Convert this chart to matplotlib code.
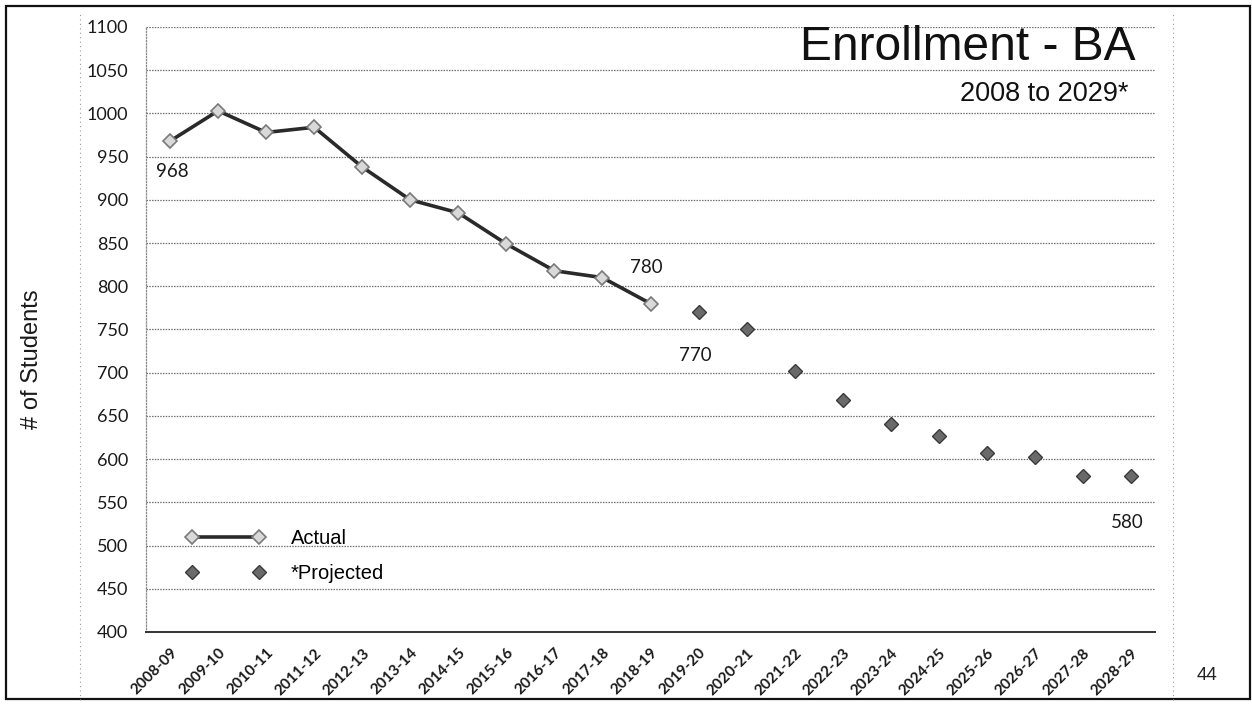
import matplotlib
matplotlib.use("Agg")
import matplotlib.pyplot as plt
from matplotlib.lines import Line2D
from matplotlib.patches import Rectangle

# School years on the x axis
years = ["2008-09", "2009-10", "2010-11", "2011-12", "2012-13", "2013-14",
         "2014-15", "2015-16", "2016-17", "2017-18", "2018-19", "2019-20",
         "2020-21", "2021-22", "2022-23", "2023-24", "2024-25", "2025-26",
         "2026-27", "2027-28", "2028-29"]

# Actual enrollment 2008-09 .. 2018-19
actual = [968, 1003, 978, 984, 938, 900, 885, 849, 818, 810, 780]
# Projected enrollment 2019-20 .. 2028-29
projected = [770, 750, 702, 668, 641, 627, 607, 603, 581, 580]

y_ticks = [400, 450, 500, 550, 600, 650, 700, 750, 800, 850, 900, 950,
           1000, 1050, 1100]

W, H = 1252, 709
fig = plt.figure(figsize=(W / 100, H / 100), dpi=100)
fig.patch.set_facecolor("white")

ax = fig.add_axes([146 / W, 1 - 632 / H, (1155 - 146) / W, (632 - 27) / H])

x_act = list(range(len(actual)))
x_proj = list(range(len(actual), len(actual) + len(projected)))

line_act, = ax.plot(x_act, actual, color="#2a2a2a", lw=2.6, marker="D",
                    markersize=7.5, markerfacecolor="#d9d9d9",
                    markeredgecolor="#7a7a7a", markeredgewidth=1.2,
                    zorder=3, label="Actual")
line_proj, = ax.plot(x_proj, projected, ls="none", marker="D",
                     markersize=7.5, markerfacecolor="#6a6a6a",
                     markeredgecolor="#3a3a3a", markeredgewidth=1.0,
                     zorder=3, label="*Projected")

ax.set_xlim(-0.5, len(years) - 0.5)
ax.set_ylim(400, 1100)
ax.set_yticks(y_ticks)
ax.set_yticklabels([str(v) for v in y_ticks], fontfamily="Lato",
                   fontsize=13, color="#1a1a1a")
ax.set_xticks(range(len(years)))
ax.set_xticklabels(years, rotation=45, ha="right", rotation_mode="anchor",
                   fontfamily="Lato", fontweight="bold", fontsize=11,
                   color="#1a1a1a")
ax.tick_params(axis="y", length=0, pad=13)
ax.tick_params(axis="x", length=0, pad=10)

# Horizontal gridlines, dotted grey
ax.grid(axis="y", color="#6f6f6f", lw=0.9, ls=(0, (1.2, 1.0)))
ax.set_axisbelow(True)
for s in ("top", "right"):
    ax.spines[s].set_visible(False)
ax.spines["bottom"].set_color("#333333")
ax.spines["bottom"].set_linewidth(1.4)
ax.spines["left"].set_color("#8a8a8a")
ax.spines["left"].set_linewidth(0.9)
ax.spines["left"].set_linestyle((0, (1, 1.5)))

ax.set_ylabel("# of Students", fontfamily="Liberation Sans", fontsize=17,
              color="#1a1a1a")
ax.yaxis.set_label_coords((43 - 146) / 1009, (632 - 359) / 605)

# Value callouts
lbl = dict(fontfamily="Lato", fontsize=13.5, color="#1a1a1a",
           ha="center", va="center")
ax.annotate(str(actual[0]), (x_act[0], actual[0]), xytext=(2, -22),
            textcoords="offset points", **lbl)
ax.annotate(str(actual[-1]), (x_act[-1], actual[-1]), xytext=(-3, 26),
            textcoords="offset points", **lbl)
ax.annotate(str(projected[0]), (x_proj[0], projected[0]), xytext=(-2, -31),
            textcoords="offset points", **lbl)
ax.annotate(str(projected[-1]), (x_proj[-1], projected[-1]), xytext=(-3, -33),
            textcoords="offset points", **lbl)

# Title block, right aligned inside the plot
ax.text((1135 - 146) / 1009, (632 - 48) / 605, "Enrollment - BA",
        transform=ax.transAxes, ha="right", va="center",
        fontfamily="Liberation Sans", fontsize=34.5, color="#111111")
ax.text((1128 - 146) / 1009, (632 - 94) / 605, "2008 to 2029*",
        transform=ax.transAxes, ha="right", va="center",
        fontfamily="Liberation Sans", fontsize=19.5, color="#111111")

leg = ax.legend(handles=[line_act, line_proj], loc="center left",
                bbox_to_anchor=(0.022, (632 - 556) / 605), frameon=False,
                numpoints=2, handlelength=3.9, handletextpad=1.3,
                labelspacing=0.75,
                prop={"family": "Liberation Sans", "size": 14.5})

# Slide frame and page number
fig.add_artist(Rectangle((6 / W, 1 - 699 / H), (1250 - 6) / W, (699 - 6) / H,
                         transform=fig.transFigure, fill=False,
                         edgecolor="#111111", lw=1.6))
for xv in (80, 1173):
    fig.add_artist(Line2D([xv / W, xv / W], [1 - 700 / H, 1 - 14 / H],
                          transform=fig.transFigure, color="#9a9a9a",
                          lw=0.8, ls=(0, (1, 3))))
fig.text(1207 / W, 1 - 675 / H, "44", ha="center", va="center",
         fontfamily="Liberation Sans", fontsize=13.5, color="#222222")

fig.savefig("out.png", dpi=100, facecolor="white")
